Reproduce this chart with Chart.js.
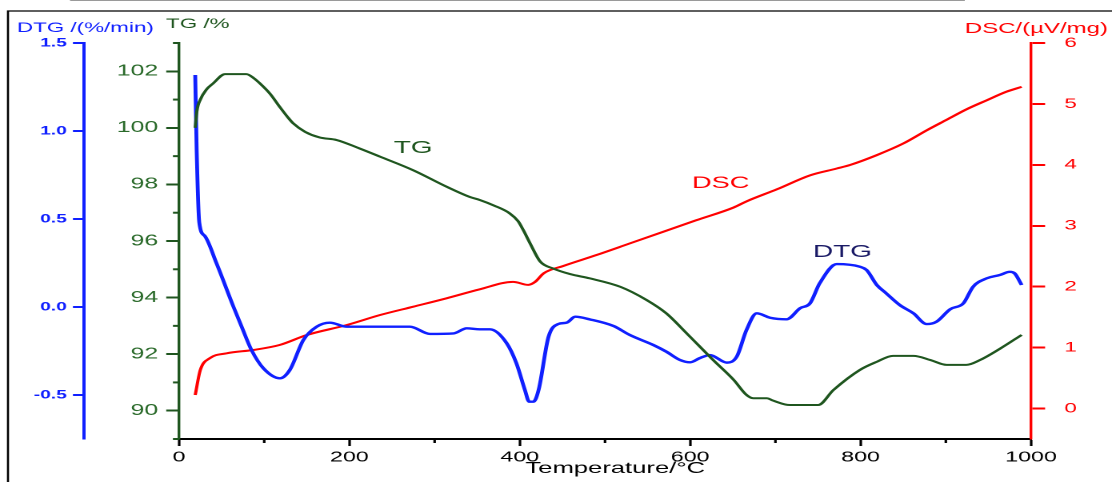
<!DOCTYPE html>
<html>
<head>
<meta charset="utf-8">
<title>TG / DTG / DSC</title>
<script src="https://cdn.jsdelivr.net/npm/chart.js@4.4.1/dist/chart.umd.min.js"></script>
<style>
  html, body { margin: 0; padding: 0; background: #fff; }
  #wrap { width: 1112px; height: 482px; overflow: hidden; }
  /* the whole plot is drawn narrow and widened horizontally */
  #grafico { transform: scaleX(1.6); transform-origin: 0 0; }
</style>
</head>
<body>
<div id="wrap"><canvas id="grafico" width="695" height="482"></canvas></div>
<script>
const FONT = "'Liberation Sans', Arial, sans-serif";
const VERDE = "#1f561f";
const VERDE_TXT = "#2a6a2a";
const AZUL = "#1020ff";
const VERMELHO = "#ff0000";

// TG curve (mass %)
const tgTemp = [19, 21, 25, 32, 40, 54, 65, 79, 88, 95, 107, 118, 127, 134, 148, 165, 185, 212, 236, 275,
  314, 341, 353, 370, 388, 398, 404, 412, 424, 439, 459, 482, 518, 549, 572, 596, 627, 651, 666, 674,
  690, 697, 717, 750, 768, 799, 819, 838, 862, 882, 901, 924, 940, 964, 989];
const tgMassa = [100.0, 100.6, 101.0, 101.35, 101.57, 101.9, 101.9, 101.9, 101.75, 101.57, 101.2, 100.75, 100.4, 100.16, 99.86, 99.66, 99.57, 99.27, 98.98, 98.5,
  97.92, 97.56, 97.45, 97.25, 96.98, 96.7, 96.39, 95.92, 95.27, 95.03, 94.83, 94.68, 94.38, 93.91, 93.44, 92.73, 91.79, 91.09, 90.56, 90.44,
  90.44, 90.36, 90.2, 90.2, 90.73, 91.44, 91.73, 91.94, 91.94, 91.79, 91.62, 91.62, 91.79, 92.2, 92.68];

// DTG curve (%/min)
const dtgTemp = [19, 20.7, 23.8, 30, 44, 64, 73.5, 85, 99, 118.5, 130, 146, 161.6, 177, 197, 236, 271, 294.6, 322, 337.7, 353,
  365, 384.6, 396, 406, 411, 416, 422, 433.7, 445, 455, 465, 482, 510, 529, 556.7, 572, 588, 600, 611, 623,
  643, 654.6, 666, 678, 693.7, 713, 729, 740.6, 752, 772, 799, 807, 819, 830, 846, 862, 877.5, 889, 905, 920.6,
  932, 948, 963.6, 975, 981, 989];
const dtgTaxa = [1.318, 0.892, 0.479, 0.405, 0.248, 0.0, -0.112, -0.244, -0.348, -0.405, -0.358, -0.187, -0.112, -0.089, -0.112, -0.112, -0.112, -0.153, -0.150, -0.121, -0.127,
  -0.127, -0.206, -0.32, -0.472, -0.538, -0.538, -0.472, -0.169, -0.097, -0.089, -0.055, -0.07, -0.108, -0.159, -0.216, -0.254, -0.301, -0.314, -0.291, -0.273,
  -0.316, -0.282, -0.131, -0.036, -0.061, -0.07, -0.007, 0.021, 0.135, 0.244, 0.229, 0.21, 0.125, 0.078, 0.011, -0.036, -0.097, -0.084, -0.013, 0.021,
  0.115, 0.163, 0.182, 0.2, 0.19, 0.125];

// DSC curve (µV/mg)
const dscTemp = [19, 25, 36, 56, 87, 118, 150, 197, 236, 275, 314, 353, 392, 410, 418, 428, 451, 490, 529, 568,
  607, 651, 666, 702, 741, 772, 788, 819, 850, 878, 901, 924, 948, 971, 989];
const dscSinal = [0.222, 0.633, 0.825, 0.907, 0.961, 1.043, 1.207, 1.371, 1.535, 1.672, 1.81, 1.957, 2.08, 2.03, 2.08, 2.22, 2.34, 2.52, 2.71, 2.90,
  3.09, 3.30, 3.40, 3.6, 3.83, 3.94, 4.0, 4.16, 4.35, 4.57, 4.74, 4.91, 5.06, 5.20, 5.28];

// tick labels
const tempTicks = [0, 200, 400, 600, 800, 1000];
const tempMinor = [100, 300, 500, 700, 900];
const tgTicks = [90, 92, 94, 96, 98, 100, 102];
const tgMinor = [89, 91, 93, 95, 97, 99, 101, 103];
const dtgTicks = [-0.5, 0, 0.5, 1.0, 1.5];
const dscTicks = [0, 1, 2, 3, 4, 5, 6];

const pontos = (xs, ys) => xs.map((x, i) => ({ x, y: ys[i] }));
const fixa = lista => s => { s.ticks = lista.map(v => ({ value: v })); };

const extras = {
  id: "extras",
  beforeDraw(chart) {
    const ctx = chart.ctx;
    ctx.save();
    ctx.fillStyle = "#fff";
    ctx.fillRect(0, 0, chart.width, chart.height);
    ctx.restore();
  },
  afterDraw(chart) {
    const ctx = chart.ctx;
    const s = chart.scales;
    ctx.save();

    // minor ticks on TG axis
    ctx.strokeStyle = VERDE;
    ctx.lineWidth = 2;
    tgMinor.forEach(v => {
      const y = s.yTG.getPixelForValue(v);
      ctx.beginPath();
      ctx.moveTo(s.yTG.right, y);
      ctx.lineTo(s.yTG.right - 3.8, y);
      ctx.stroke();
    });

    // minor ticks on temperature axis
    ctx.strokeStyle = "#000";
    ctx.lineWidth = 1.6;
    tempMinor.forEach(v => {
      const x = s.x.getPixelForValue(v);
      ctx.beginPath();
      ctx.moveTo(x, s.x.top);
      ctx.lineTo(x, s.x.top + 4);
      ctx.stroke();
    });

    // axis titles
    ctx.textBaseline = "alphabetic";
    ctx.textAlign = "left";
    ctx.font = "14px " + FONT;
    ctx.fillStyle = AZUL;
    ctx.fillText("DTG /(%/min)", 10.6, 32);
    ctx.fillStyle = VERDE;
    ctx.fillText("TG /%", 103.8, 28);
    ctx.font = "15px " + FONT;
    ctx.fillStyle = VERMELHO;
    ctx.fillText("DSC/(µV/mg)", 603, 33);
    ctx.textAlign = "center";
    ctx.font = "16px " + FONT;
    ctx.fillStyle = "#000";
    ctx.fillText("Temperature/°C", s.x.getPixelForValue(512), 473);

    // curve names
    ctx.textAlign = "left";
    ctx.font = "17.5px " + FONT;
    ctx.fillStyle = VERDE;
    ctx.fillText("TG", s.x.getPixelForValue(252), s.yTG.getPixelForValue(99.11));
    ctx.font = "17px " + FONT;
    ctx.fillStyle = VERMELHO;
    ctx.fillText("DSC", s.x.getPixelForValue(602), s.yDSC.getPixelForValue(3.62));
    ctx.font = "17.5px " + FONT;
    ctx.fillStyle = "#1a1a66";
    ctx.fillText("DTG", s.x.getPixelForValue(744), s.yDTG.getPixelForValue(0.284));

    // outer frame
    ctx.strokeStyle = "#000";
    ctx.lineWidth = 1.3;
    ctx.beginPath();
    ctx.moveTo(5, chart.height);
    ctx.lineTo(5, 11);
    ctx.lineTo(chart.width, 11);
    ctx.stroke();
    ctx.strokeStyle = "#9a9a9a";
    ctx.lineWidth = 1;
    ctx.beginPath();
    ctx.moveTo(43.8, 0.5);
    ctx.lineTo(603, 0.5);
    ctx.stroke();

    ctx.restore();
  }
};

new Chart(document.getElementById("grafico"), {
  type: "line",
  data: {
    datasets: [
      {
        label: "TG",
        data: pontos(tgTemp, tgMassa),
        yAxisID: "yTG",
        borderColor: VERDE,
        borderWidth: 2,
        cubicInterpolationMode: "monotone"
      },
      {
        label: "DTG",
        data: pontos(dtgTemp, dtgTaxa),
        yAxisID: "yDTG",
        borderColor: AZUL,
        borderWidth: 2.4,
        cubicInterpolationMode: "monotone"
      },
      {
        label: "DSC",
        data: pontos(dscTemp, dscSinal),
        yAxisID: "yDSC",
        borderColor: VERMELHO,
        borderWidth: 2,
        cubicInterpolationMode: "monotone"
      }
    ]
  },
  options: {
    responsive: false,
    devicePixelRatio: 2,
    animation: false,
    elements: { point: { radius: 0 } },
    layout: { padding: { top: 43, left: 0, right: 0, bottom: 0 } },
    plugins: {
      legend: { display: false },
      tooltip: { enabled: false }
    },
    scales: {
      x: {
        type: "linear",
        position: "bottom",
        min: 0,
        max: 1000,
        afterBuildTicks: fixa(tempTicks),
        afterFit: s => { s.height = 43; },
        border: { color: "#000", width: 2 },
        grid: { drawOnChartArea: false, color: "#000", tickColor: "#000", tickLength: 7, tickWidth: 1.6 },
        ticks: {
          color: "#000",
          font: { family: FONT, size: 14.5 },
          padding: 3,
          maxRotation: 0,
          callback: v => String(v)
        }
      },
      yDTG: {
        type: "linear",
        position: "left",
        weight: 2,
        min: -0.75,
        max: 1.5,
        afterBuildTicks: fixa(dtgTicks),
        afterFit: s => { s.width = 52.5; },
        border: { color: AZUL, width: 2 },
        grid: { drawOnChartArea: false, color: AZUL, tickColor: AZUL, tickLength: 6.9, tickWidth: 2 },
        ticks: {
          color: AZUL,
          font: { family: FONT, size: 12, weight: "bold" },
          padding: 3.8,
          callback: v => v.toFixed(1)
        }
      },
      yTG: {
        type: "linear",
        position: "left",
        weight: 1,
        min: 89,
        max: 103,
        afterBuildTicks: fixa(tgTicks),
        afterFit: s => { s.width = 59.4; },
        border: { color: VERDE, width: 1.7 },
        grid: { drawOnChartArea: false, color: VERDE, tickColor: VERDE, tickLength: 8, tickWidth: 2 },
        ticks: {
          color: VERDE_TXT,
          font: { family: FONT, size: 15.5 },
          padding: 5,
          callback: v => String(v)
        }
      },
      yDSC: {
        type: "linear",
        position: "right",
        min: -0.5,
        max: 6,
        afterBuildTicks: fixa(dscTicks),
        afterFit: s => { s.width = 50.6; },
        border: { color: VERMELHO, width: 1.7 },
        grid: { drawOnChartArea: false, color: VERMELHO, tickColor: VERMELHO, tickLength: 8.8, tickWidth: 2 },
        ticks: {
          color: VERMELHO,
          font: { family: FONT, size: 14 },
          padding: 12,
          callback: v => String(v)
        }
      }
    }
  },
  plugins: [extras]
});
</script>
</body>
</html>
